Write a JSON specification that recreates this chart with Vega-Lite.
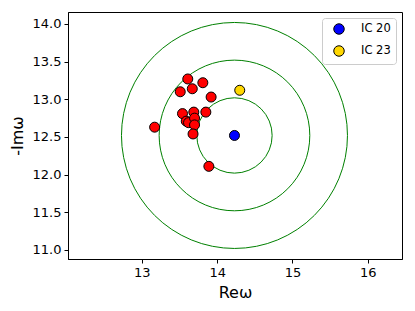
{
  "$schema": "https://vega.github.io/schema/vega-lite/v6.json",
  "width": 334,
  "height": 247,
  "autosize": "none",
  "padding": {"left": 68, "top": 12, "right": 13, "bottom": 52},
  "config": {
    "font": "DejaVu Sans",
    "view": {"stroke": "black", "strokeWidth": 1},
    "axis": {
      "grid": false,
      "domainColor": "black",
      "tickColor": "black",
      "labelColor": "black",
      "titleColor": "black",
      "labelFontSize": 13,
      "titleFontSize": 16,
      "titleFontWeight": "normal",
      "tickSize": 4,
      "labelPadding": 3,
      "domainWidth": 1,
      "tickWidth": 1
    }
  },
  "datasets": {
    "rings": [
      {"re": 14.23, "im": 12.52, "r": 0.5},
      {"re": 14.23, "im": 12.52, "r": 1.0},
      {"re": 14.23, "im": 12.52, "r": 1.5}
    ],
    "others": [
      {"re": 13.61, "im": 13.27},
      {"re": 13.81, "im": 13.22},
      {"re": 13.51, "im": 13.10},
      {"re": 13.67, "im": 13.14},
      {"re": 13.92, "im": 13.03},
      {"re": 13.54, "im": 12.81},
      {"re": 13.69, "im": 12.83},
      {"re": 13.85, "im": 12.83},
      {"re": 13.59, "im": 12.71},
      {"re": 13.62, "im": 12.69},
      {"re": 13.70, "im": 12.75},
      {"re": 13.70, "im": 12.66},
      {"re": 13.17, "im": 12.63},
      {"re": 13.68, "im": 12.54},
      {"re": 13.89, "im": 12.11}
    ],
    "ic": [
      {"name": "IC 20", "re": 14.23, "im": 12.52},
      {"name": "IC 23", "re": 14.30, "im": 13.12}
    ]
  },
  "encoding": {
    "x": {
      "field": "re", "type": "quantitative",
      "scale": {"domain": [12.02, 16.454], "zero": false, "nice": false},
      "axis": {"title": "Reω", "values": [13, 14, 15, 16], "titlePadding": 5}
    },
    "y": {
      "field": "im", "type": "quantitative",
      "scale": {"domain": [10.88, 14.159], "zero": false, "nice": false},
      "axis": {"title": "-Imω", "values": [11, 11.5, 12, 12.5, 13, 13.5, 14], "format": ".1f", "titlePadding": 7}
    }
  },
  "layer": [
    {
      "data": {"name": "rings"},
      "mark": {"type": "point", "shape": "circle", "filled": false, "stroke": "#008000", "strokeWidth": 1, "opacity": 1},
      "encoding": {
        "size": {"field": "r", "type": "quantitative", "scale": {"type": "pow", "exponent": 2, "domain": [0, 1.5], "range": [0, 51076]}, "legend": null}
      }
    },
    {
      "data": {"name": "others"},
      "mark": {"type": "point", "shape": "circle", "filled": true, "fill": "#ff0000", "stroke": "black", "strokeWidth": 1, "opacity": 1, "size": 100}
    },
    {
      "data": {"name": "ic"},
      "mark": {"type": "point", "shape": "circle", "filled": true, "stroke": "black", "strokeWidth": 1, "opacity": 1, "size": 100},
      "encoding": {
        "fill": {
          "field": "name", "type": "nominal",
          "scale": {"domain": ["IC 20", "IC 23"], "range": ["#0000ff", "#ffd700"]},
          "legend": {
            "title": null,
            "orient": "top-right",
            "offset": 6,
            "padding": 5,
            "symbolOffset": 6,
            "labelOffset": 16,
            "rowPadding": 6,
            "labelFontSize": 11.5,
            "labelColor": "black",
            "symbolType": "circle",
            "symbolSize": 110,
            "symbolStrokeColor": "black",
            "symbolStrokeWidth": 1,
            "symbolOpacity": 1,
            "strokeColor": "#cccccc",
            "fillColor": "white",
            "cornerRadius": 3
          }
        }
      }
    }
  ]
}
